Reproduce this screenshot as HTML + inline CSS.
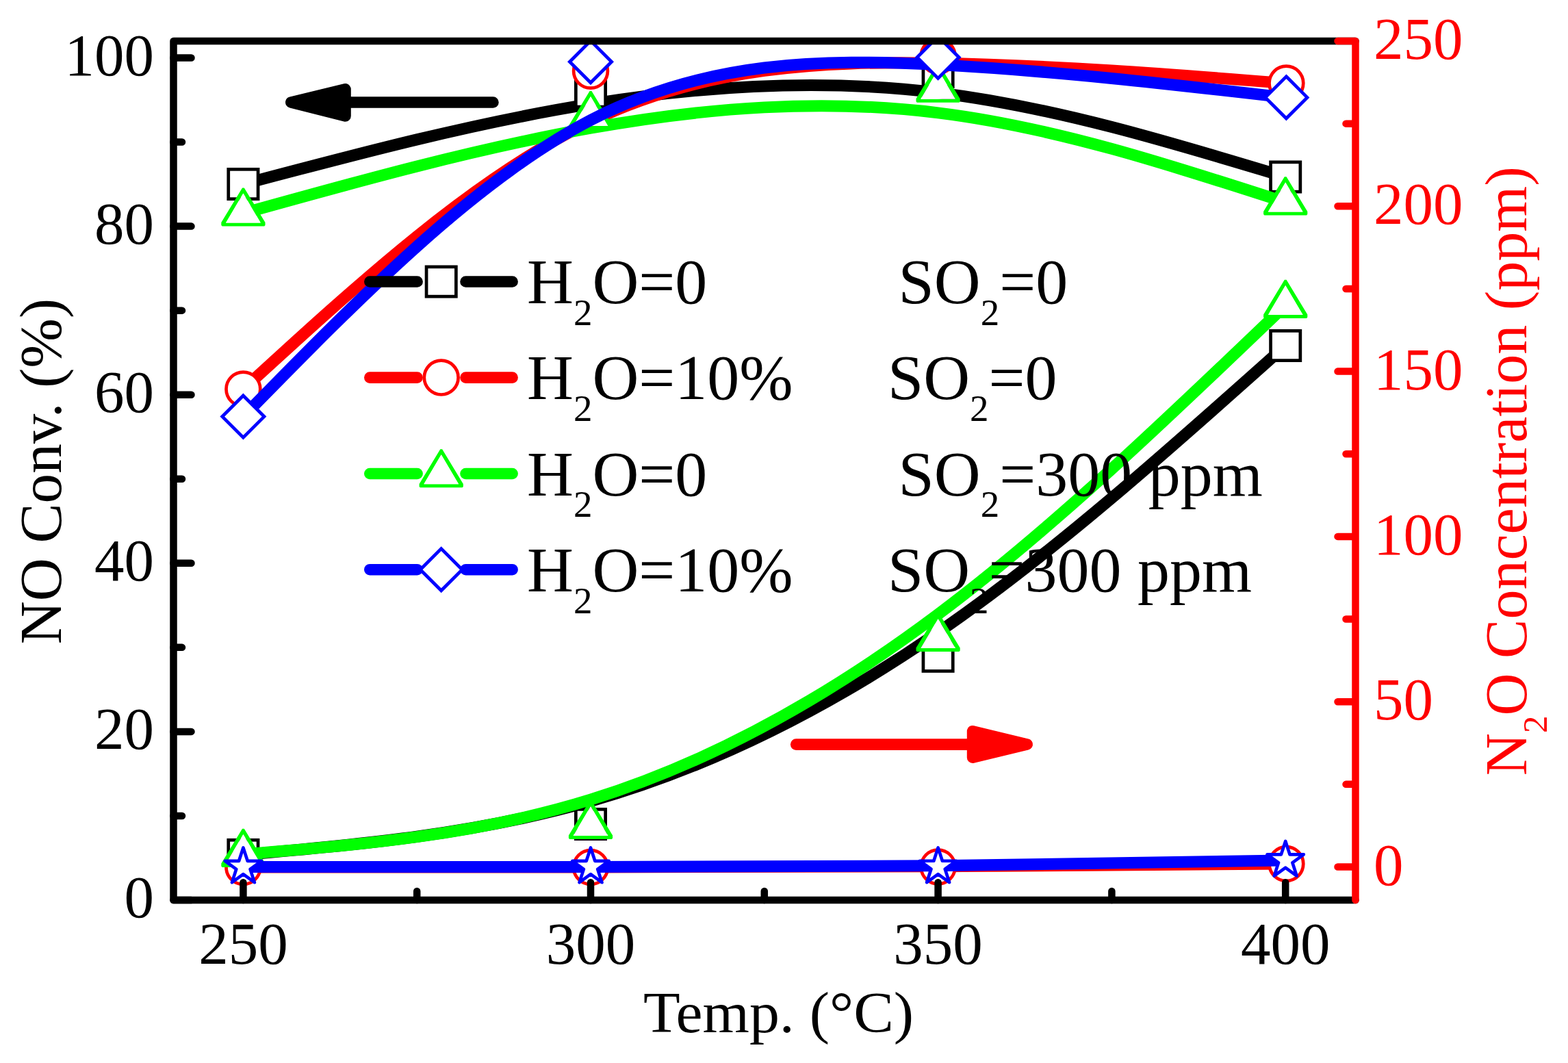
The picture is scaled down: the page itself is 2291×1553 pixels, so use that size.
<!DOCTYPE html><html><head><meta charset="utf-8"><title>NO Conversion and N2O Concentration vs Temperature</title><style>html,body{margin:0;padding:0;background:#fff;overflow:hidden}svg{display:block}</style></head><body>
<svg width="2291" height="1553" viewBox="0 0 2291 1553" font-family="'Liberation Serif', 'Times New Roman', serif">
<rect width="2291" height="1553" fill="#fff"/>
<defs><clipPath id="pc"><rect x="248" y="55" width="1738" height="1265"/></clipPath></defs>
<g clip-path="url(#pc)" stroke-linejoin="miter">
<path d="M355.4 269C524.6 224.13 693.8 179.27 863 151.93C1032.2 124.6 1201.4 114.8 1370.6 135.48C1539.8 156.17 1709 207.33 1878.2 258.5" fill="none" stroke="#000000" stroke-width="17" stroke-linecap="butt"/>
<rect x="333.75" y="247.35" width="43.3" height="43.3" fill="#fff" stroke="#000000" stroke-width="4.7"/>
<rect x="841.35" y="112.75" width="43.3" height="43.3" fill="#fff" stroke="#000000" stroke-width="4.7"/>
<rect x="1348.95" y="83.35" width="43.3" height="43.3" fill="#fff" stroke="#000000" stroke-width="4.7"/>
<rect x="1856.55" y="236.85" width="43.3" height="43.3" fill="#fff" stroke="#000000" stroke-width="4.7"/>
<path d="M355.4 568.5C524.6 413.57 693.8 258.63 863 177.55C1032.2 96.47 1201.4 89.23 1370.6 92.22C1539.8 95.2 1709 108.4 1878.2 121.6" fill="none" stroke="#ff0000" stroke-width="17" stroke-linecap="butt"/>
<circle cx="355.4" cy="568.5" r="24.9" fill="#fff" stroke="#ff0000" stroke-width="4.7"/>
<circle cx="863" cy="103.7" r="24.9" fill="#fff" stroke="#ff0000" stroke-width="4.7"/>
<circle cx="1370.6" cy="82" r="24.9" fill="#fff" stroke="#ff0000" stroke-width="4.7"/>
<circle cx="1879.4" cy="121.6" r="24.9" fill="#fff" stroke="#ff0000" stroke-width="4.7"/>
<path d="M355.4 311.6C524.6 264.47 693.8 217.33 863 187.2C1032.2 157.07 1201.4 143.93 1370.6 164.82C1539.8 185.7 1709 240.6 1878.2 295.5" fill="none" stroke="#00ff00" stroke-width="17" stroke-linecap="butt"/>
<path d="M354 274.4L356.8 274.4L387.5 325.1L387.5 329.1L386.2 330.5L324.6 330.5L323.3 329.1L323.3 325.1ZM355.4 282.5L380.8 325.5L330 325.5Z" fill="#00ff00" fill-rule="evenodd"/><path d="M355.4 282.5L380.8 325.5L330 325.5Z" fill="#fff"/>
<path d="M861.6 133L864.4 133L895.1 183.7L895.1 187.7L893.8 189.1L832.2 189.1L830.9 187.7L830.9 183.7ZM863 141.1L888.4 184.1L837.6 184.1Z" fill="#00ff00" fill-rule="evenodd"/><path d="M863 141.1L888.4 184.1L837.6 184.1Z" fill="#fff"/>
<path d="M1369.2 93.6L1372 93.6L1402.7 144.3L1402.7 148.3L1401.4 149.7L1339.8 149.7L1338.5 148.3L1338.5 144.3ZM1370.6 101.7L1396 144.7L1345.2 144.7Z" fill="#00ff00" fill-rule="evenodd"/><path d="M1370.6 101.7L1396 144.7L1345.2 144.7Z" fill="#fff"/>
<path d="M1876.8 258.3L1879.6 258.3L1910.3 309L1910.3 313L1909 314.4L1847.4 314.4L1846.1 313L1846.1 309ZM1878.2 266.4L1903.6 309.4L1852.8 309.4Z" fill="#00ff00" fill-rule="evenodd"/><path d="M1878.2 266.4L1903.6 309.4L1852.8 309.4Z" fill="#fff"/>
<path d="M355.4 608.6C524.6 435.8 693.8 263 863 175.53C1032.2 88.07 1201.4 85.93 1370.6 94.63C1539.8 103.33 1709 122.87 1878.2 142.4" fill="none" stroke="#0000ff" stroke-width="17" stroke-linecap="butt"/>
<polygon points="355.4,578 386,608.6 355.4,639.2 324.8,608.6" fill="#fff" stroke="#0000ff" stroke-width="4.8"/>
<polygon points="863,59.6 893.6,90.2 863,120.8 832.4,90.2" fill="#fff" stroke="#0000ff" stroke-width="4.8"/>
<polygon points="1370.6,53.2 1401.2,83.8 1370.6,114.4 1340,83.8" fill="#fff" stroke="#0000ff" stroke-width="4.8"/>
<polygon points="1879.4,111.8 1910,142.4 1879.4,173 1848.8,142.4" fill="#fff" stroke="#0000ff" stroke-width="4.8"/>
<path d="M355.4 1248.9C524.6 1233.93 693.8 1218.97 863 1170.62C1032.2 1122.27 1201.4 1040.53 1370.6 924.03C1539.8 807.53 1709 656.27 1878.2 505" fill="none" stroke="#000000" stroke-width="17" stroke-linecap="butt"/>
<rect x="333.75" y="1227.25" width="43.3" height="43.3" fill="#fff" stroke="#000000" stroke-width="4.7"/>
<rect x="841.35" y="1182.35" width="43.3" height="43.3" fill="#fff" stroke="#000000" stroke-width="4.7"/>
<rect x="1348.95" y="937.15" width="43.3" height="43.3" fill="#fff" stroke="#000000" stroke-width="4.7"/>
<rect x="1856.55" y="483.35" width="43.3" height="43.3" fill="#fff" stroke="#000000" stroke-width="4.7"/>
<path d="M355.4 1267C524.6 1267 693.8 1267 863 1266.92C1032.2 1266.83 1201.4 1266.67 1370.6 1265.83C1539.8 1265 1709 1263.5 1878.2 1262" fill="none" stroke="#ff0000" stroke-width="17" stroke-linecap="butt"/>
<circle cx="355.4" cy="1267" r="24.9" fill="#fff" stroke="#ff0000" stroke-width="4.7"/>
<circle cx="863" cy="1267" r="24.9" fill="#fff" stroke="#ff0000" stroke-width="4.7"/>
<circle cx="1370.6" cy="1266.5" r="24.9" fill="#fff" stroke="#ff0000" stroke-width="4.7"/>
<circle cx="1879.4" cy="1262" r="24.9" fill="#fff" stroke="#ff0000" stroke-width="4.7"/>
<path d="M355.4 1248C524.6 1234.33 693.8 1220.67 863 1168.17C1032.2 1115.67 1201.4 1024.33 1370.6 897.5C1539.8 770.67 1709 608.33 1878.2 446" fill="none" stroke="#00ff00" stroke-width="17" stroke-linecap="butt"/>
<path d="M354 1210.8L356.8 1210.8L387.5 1261.5L387.5 1265.5L386.2 1266.9L324.6 1266.9L323.3 1265.5L323.3 1261.5ZM355.4 1218.9L380.8 1261.9L330 1261.9Z" fill="#00ff00" fill-rule="evenodd"/><path d="M355.4 1218.9L380.8 1261.9L330 1261.9Z" fill="#fff"/>
<path d="M861.6 1169.8L864.4 1169.8L895.1 1220.5L895.1 1224.5L893.8 1225.9L832.2 1225.9L830.9 1224.5L830.9 1220.5ZM863 1177.9L888.4 1220.9L837.6 1220.9Z" fill="#00ff00" fill-rule="evenodd"/><path d="M863 1177.9L888.4 1220.9L837.6 1220.9Z" fill="#fff"/>
<path d="M1369.2 895.8L1372 895.8L1402.7 946.5L1402.7 950.5L1401.4 951.9L1339.8 951.9L1338.5 950.5L1338.5 946.5ZM1370.6 903.9L1396 946.9L1345.2 946.9Z" fill="#00ff00" fill-rule="evenodd"/><path d="M1370.6 903.9L1396 946.9L1345.2 946.9Z" fill="#fff"/>
<path d="M1876.8 408.8L1879.6 408.8L1910.3 459.5L1910.3 463.5L1909 464.9L1847.4 464.9L1846.1 463.5L1846.1 459.5ZM1878.2 416.9L1903.6 459.9L1852.8 459.9Z" fill="#00ff00" fill-rule="evenodd"/><path d="M1878.2 416.9L1903.6 459.9L1852.8 459.9Z" fill="#fff"/>
<path d="M355.4 1266.5C524.6 1266.5 693.8 1266.5 863 1266.48C1032.2 1266.47 1201.4 1266.43 1370.6 1264.85C1539.8 1263.27 1709 1260.13 1878.2 1257" fill="none" stroke="#0000ff" stroke-width="17" stroke-linecap="butt"/>
<polygon points="355.4,1238.5 361.69,1257.85 382.03,1257.85 365.57,1269.81 371.86,1289.15 355.4,1277.2 338.94,1289.15 345.23,1269.81 328.77,1257.85 349.11,1257.85" fill="#fff" stroke="#0000ff" stroke-width="4.7" stroke-linejoin="round"/>
<polygon points="863,1238.5 869.29,1257.85 889.63,1257.85 873.17,1269.81 879.46,1289.15 863,1277.2 846.54,1289.15 852.83,1269.81 836.37,1257.85 856.71,1257.85" fill="#fff" stroke="#0000ff" stroke-width="4.7" stroke-linejoin="round"/>
<polygon points="1370.6,1238.4 1376.89,1257.75 1397.23,1257.75 1380.77,1269.71 1387.06,1289.05 1370.6,1277.1 1354.14,1289.05 1360.43,1269.71 1343.97,1257.75 1364.31,1257.75" fill="#fff" stroke="#0000ff" stroke-width="4.7" stroke-linejoin="round"/>
<polygon points="1878.2,1229 1884.49,1248.35 1904.83,1248.35 1888.37,1260.31 1894.66,1279.65 1878.2,1267.7 1861.74,1279.65 1868.03,1260.31 1851.57,1248.35 1871.91,1248.35" fill="#fff" stroke="#0000ff" stroke-width="4.7" stroke-linejoin="round"/>
</g>
<g>
<path d="M540.3 411.5H609.6M680.5 411.5H748.6" stroke="#000000" stroke-width="16.6" stroke-linecap="round" fill="none"/>
<rect x="623.05" y="389.85" width="43.3" height="43.3" fill="#fff" stroke="#000000" stroke-width="4.7"/>
<path d="M540.3 551.6H609.6M680.5 551.6H748.6" stroke="#ff0000" stroke-width="16.6" stroke-linecap="round" fill="none"/>
<circle cx="644.7" cy="551.6" r="24.9" fill="#fff" stroke="#ff0000" stroke-width="4.7"/>
<path d="M540.3 692H609.6M680.5 692H748.6" stroke="#00ff00" stroke-width="16.6" stroke-linecap="round" fill="none"/>
<path d="M643.3 656.2L646.1 656.2L676.8 706.9L676.8 710.9L675.5 712.3L613.9 712.3L612.6 710.9L612.6 706.9ZM644.7 664.3L670.1 707.3L619.3 707.3Z" fill="#00ff00" fill-rule="evenodd"/><path d="M644.7 664.3L670.1 707.3L619.3 707.3Z" fill="#fff"/>
<path d="M540.3 832.2H609.6M680.5 832.2H748.6" stroke="#0000ff" stroke-width="16.6" stroke-linecap="round" fill="none"/>
<polygon points="644.7,801.6 675.3,832.2 644.7,862.8 614.1,832.2" fill="#fff" stroke="#0000ff" stroke-width="4.8"/>
</g>
<g font-size="94" fill="#000">
<text x="770" y="443.2">H<tspan font-size="55" dy="31.6">2</tspan><tspan dy="-31.6">O=0</tspan></text>
<text x="1312.6" y="443.2">SO<tspan font-size="55" dy="31.6">2</tspan><tspan dy="-31.6">=0</tspan></text>
<text x="770" y="583.3">H<tspan font-size="55" dy="31.6">2</tspan><tspan dy="-31.6">O=10%</tspan></text>
<text x="1296.9" y="583.3">SO<tspan font-size="55" dy="31.6">2</tspan><tspan dy="-31.6">=0</tspan></text>
<text x="770" y="723.7">H<tspan font-size="55" dy="31.6">2</tspan><tspan dy="-31.6">O=0</tspan></text>
<text x="1312.6" y="723.7">SO<tspan font-size="55" dy="31.6">2</tspan><tspan dy="-31.6">=300 ppm</tspan></text>
<text x="770" y="863.9">H<tspan font-size="55" dy="31.6">2</tspan><tspan dy="-31.6">O=10%</tspan></text>
<text x="1296.9" y="863.9">SO<tspan font-size="55" dy="31.6">2</tspan><tspan dy="-31.6">=300 ppm</tspan></text>
</g>
<g stroke-linejoin="round" stroke-linecap="round" stroke-width="16.6">
<path d="M504.5 149.5H720.4" stroke="#000" fill="none"/>
<polygon points="425.3,149.5 504.5,130.3 504.5,169.5" fill="#000" stroke="#000"/>
<path d="M1163.2 1087.6H1421.1" stroke="#f00" fill="none"/>
<polygon points="1500.7,1087.5 1421.1,1068.2 1421.1,1106.7" fill="#f00" stroke="#f00"/>
</g>
<path d="M1980.5 60H253.5V1315H1980.5" fill="none" stroke="#000" stroke-width="10.5" stroke-linejoin="round" stroke-linecap="round"/>
<path d="M253.5 1315H279.5M253.5 1068.9H279.5M253.5 822.8H279.5M253.5 576.7H279.5M253.5 330.6H279.5M253.5 84.5H279.5M253.5 1191.95H266M253.5 945.85H266M253.5 699.75H266M253.5 453.65H266M253.5 207.55H266M355.4 1315V1289.3M863 1315V1289.3M1370.6 1315V1289.3M1878.2 1315V1289.3M609.2 1315V1302M1116.8 1315V1302M1624.4 1315V1302" fill="none" stroke="#000" stroke-width="10.5" stroke-linecap="round"/>
<path d="M1980.5 60V1315M1980.5 1266.5H1954.5M1980.5 1025.2H1954.5M1980.5 783.9H1954.5M1980.5 542.6H1954.5M1980.5 301.3H1954.5M1980.5 60H1954.5M1980.5 1145.85H1966.5M1980.5 904.55H1966.5M1980.5 663.25H1966.5M1980.5 421.95H1966.5M1980.5 180.65H1966.5" fill="none" stroke="#f00" stroke-width="10.5" stroke-linecap="round"/>
<g font-size="87" fill="#000" text-anchor="end">
<text x="225" y="1340.2">0</text>
<text x="225" y="1094.1">20</text>
<text x="225" y="848">40</text>
<text x="225" y="601.9">60</text>
<text x="225" y="355.8">80</text>
<text x="225" y="109.7">100</text>
</g>
<g font-size="87" fill="#000" text-anchor="middle">
<text x="355.4" y="1408">250</text>
<text x="863" y="1408">300</text>
<text x="1370.6" y="1408">350</text>
<text x="1878.2" y="1408">400</text>
</g>
<g font-size="87" fill="#f00">
<text x="2007" y="1292.5">0</text>
<text x="2007" y="1051.2">50</text>
<text x="2007" y="809.9">100</text>
<text x="2007" y="568.6">150</text>
<text x="2007" y="327.3">200</text>
<text x="2007" y="86">250</text>
</g>
<text transform="translate(940 1508.3) scale(1 0.965)" font-size="87.9" fill="#000">Temp. (°C)</text>
<text transform="translate(88.7 941.3) rotate(-90)" font-size="87.2" fill="#000">NO Conv. (%)</text>
<text transform="translate(2230.3 1133.2) rotate(-90)" font-size="86.0" fill="#f00">N<tspan font-size="51" dy="30">2</tspan><tspan dy="-30">O Concentration (ppm)</tspan></text>
</svg></body></html>
